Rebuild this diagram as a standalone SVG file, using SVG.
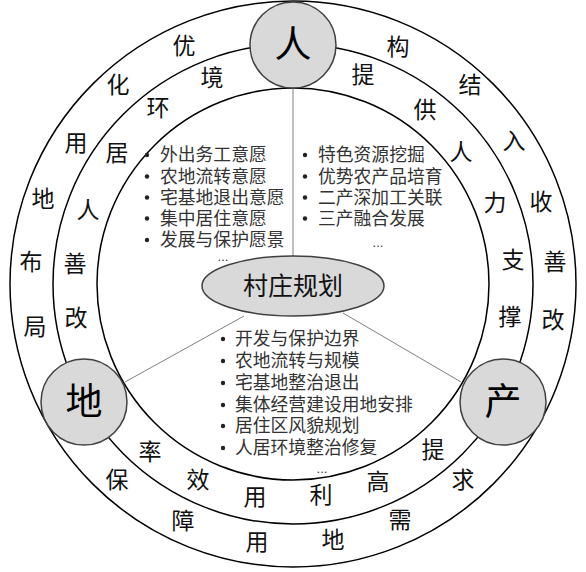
<svg xmlns="http://www.w3.org/2000/svg" width="586" height="572" viewBox="0 0 586 572">
<style>
.ring{fill:none;stroke:#000;stroke-width:1.5}
.div{stroke:#808080;stroke-width:1;fill:none}
.node{fill:#d9d9d9;stroke:#404040;stroke-width:1.5}
.rc{font-family:"Liberation Serif","Noto Sans CJK SC",serif;font-size:23px;fill:#111;text-anchor:middle;dominant-baseline:central}
.nl{font-family:"Liberation Serif","Noto Sans CJK SC",serif;font-size:37px;fill:#000;text-anchor:middle;dominant-baseline:central}
.li{font-family:"Liberation Serif","Noto Sans CJK SC",serif;font-size:17.8px;fill:#333;dominant-baseline:central}
.dots{font-family:"Liberation Sans",sans-serif;font-size:13px;fill:#333;text-anchor:middle}
.bul{fill:#222}
</style>
<rect width="586" height="572" fill="#fff"/>
<g id="rings">
<circle class="ring" cx="293" cy="284" r="283"/>
<circle class="ring" cx="293" cy="284" r="240"/>
<circle class="ring" cx="293" cy="284" r="196"/>
</g>
<g id="connectors">
<line class="div" x1="293" y1="88" x2="293" y2="256"/>
<line class="div" x1="244" y1="316" x2="125" y2="382"/>
<line class="div" x1="343" y1="313" x2="461" y2="382"/>
</g>
<g id="ring-text-outer">
<text class="rc" x="184" y="46">优</text>
<text class="rc" x="118" y="85">化</text>
<text class="rc" x="76" y="143">用</text>
<text class="rc" x="43" y="199">地</text>
<text class="rc" x="31" y="262">布</text>
<text class="rc" x="35" y="327">局</text>
<text class="rc" x="398" y="47">构</text>
<text class="rc" x="470" y="85">结</text>
<text class="rc" x="514" y="141">入</text>
<text class="rc" x="541" y="202">收</text>
<text class="rc" x="555" y="262">善</text>
<text class="rc" x="553" y="320">改</text>
<text class="rc" x="117" y="480">保</text>
<text class="rc" x="183" y="521">障</text>
<text class="rc" x="257" y="542">用</text>
<text class="rc" x="333" y="540">地</text>
<text class="rc" x="400" y="520">需</text>
<text class="rc" x="463" y="480">求</text>
</g>
<g id="ring-text-middle">
<text class="rc" x="212" y="78">境</text>
<text class="rc" x="158" y="108">环</text>
<text class="rc" x="117" y="153">居</text>
<text class="rc" x="88" y="210">人</text>
<text class="rc" x="75" y="264">善</text>
<text class="rc" x="76" y="318">改</text>
<text class="rc" x="363" y="75">提</text>
<text class="rc" x="425" y="110">供</text>
<text class="rc" x="461" y="152">人</text>
<text class="rc" x="495" y="203">力</text>
<text class="rc" x="513" y="260">支</text>
<text class="rc" x="510" y="317">撑</text>
<text class="rc" x="150" y="452">率</text>
<text class="rc" x="198" y="480">效</text>
<text class="rc" x="255" y="497">用</text>
<text class="rc" x="321" y="495">利</text>
<text class="rc" x="378" y="482">高</text>
<text class="rc" x="433" y="450">提</text>
</g>
<g id="list-people">
<circle class="bul" cx="147" cy="155" r="2.2"/>
<circle class="bul" cx="147" cy="176.5" r="2.2"/>
<circle class="bul" cx="147" cy="197.5" r="2.2"/>
<circle class="bul" cx="147" cy="218.5" r="2.2"/>
<circle class="bul" cx="147" cy="240" r="2.2"/>
<text class="li" x="160" y="155">外出务工意愿</text>
<text class="li" x="160" y="176.5">农地流转意愿</text>
<text class="li" x="160" y="197.5">宅基地退出意愿</text>
<text class="li" x="160" y="218.5">集中居住意愿</text>
<text class="li" x="160" y="240">发展与保护愿景</text>
<text class="dots" x="223" y="261">...</text>
</g>
<g id="list-industry">
<circle class="bul" cx="305" cy="155" r="2.2"/>
<circle class="bul" cx="305" cy="176.5" r="2.2"/>
<circle class="bul" cx="305" cy="197.5" r="2.2"/>
<circle class="bul" cx="305" cy="218.5" r="2.2"/>
<text class="li" x="318" y="155">特色资源挖掘</text>
<text class="li" x="318" y="176.5">优势农产品培育</text>
<text class="li" x="318" y="197.5">二产深加工关联</text>
<text class="li" x="318" y="218.5">三产融合发展</text>
<text class="dots" x="378" y="247">...</text>
</g>
<g id="list-land">
<circle class="bul" cx="223" cy="339" r="2.2"/>
<circle class="bul" cx="223" cy="361" r="2.2"/>
<circle class="bul" cx="223" cy="383" r="2.2"/>
<circle class="bul" cx="223" cy="405" r="2.2"/>
<circle class="bul" cx="223" cy="426" r="2.2"/>
<circle class="bul" cx="223" cy="448" r="2.2"/>
<text class="li" x="235" y="339">开发与保护边界</text>
<text class="li" x="235" y="361">农地流转与规模</text>
<text class="li" x="235" y="383">宅基地整治退出</text>
<text class="li" x="235" y="405">集体经营建设用地安排</text>
<text class="li" x="235" y="426">居住区风貌规划</text>
<text class="li" x="235" y="448">人居环境整治修复</text>
<text class="dots" x="322" y="473">...</text>
</g>
<g id="node-center">
<ellipse class="node" cx="293" cy="286" rx="91" ry="30"/>
<text class="rc" x="293" y="286" style="font-size:25px">村庄规划</text>
</g>
<g id="node-ren">
<circle class="node" cx="293" cy="45" r="43"/>
<text class="nl" x="293" y="45">人</text>
</g>
<g id="node-di">
<circle class="node" cx="84" cy="402" r="43"/>
<text class="nl" x="84" y="402">地</text>
</g>
<g id="node-chan">
<circle class="node" cx="503" cy="402" r="43"/>
<text class="nl" x="503" y="402">产</text>
</g>
</svg>
